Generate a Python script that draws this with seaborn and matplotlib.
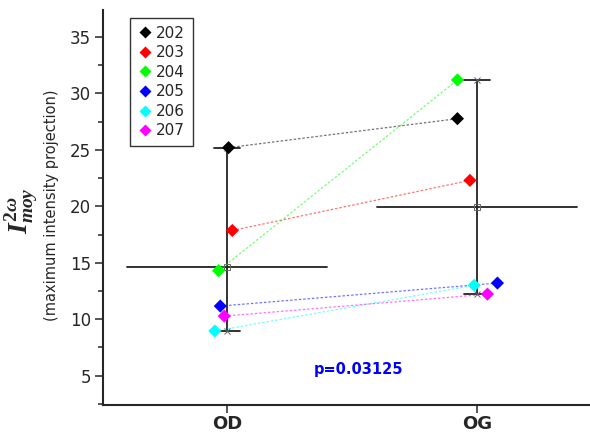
import numpy as np
import pandas as pd
import matplotlib
matplotlib.use("Agg")
import matplotlib.pyplot as plt
from matplotlib.ticker import MultipleLocator
import seaborn as sns

# values
subjects = ['202', '203', '204', '205', '206', '207']
colors = ['black', 'red', '#00ff00', 'blue', 'cyan', 'magenta']
eyes = ['OD', 'OG']
od_values = [25.2, 17.86, 14.3, 11.16, 8.95, 10.27]
og_values = [27.77, 22.3, 31.2, 13.2, 13.0, 12.22]
p_text = 'p=0.03125'

# horizontal jitter of each subject around the eye position (layout only)
jitter_od = [0.005, 0.02, -0.035, -0.028, -0.05, -0.012]
jitter_og = [-0.08, -0.03, -0.08, 0.08, -0.013, 0.04]

df = pd.DataFrame({
    'subject': subjects * 2,
    'eye': ['OD'] * 6 + ['OG'] * 6,
    'value': od_values + og_values,
})
df['xpos'] = df['eye'].map({e: i for i, e in enumerate(eyes)}) + np.array(jitter_od + jitter_og)

sns.set_style('ticks')
plt.rcParams['font.family'] = ['DejaVu Sans']
plt.rcParams['mathtext.fontset'] = 'custom'
plt.rcParams['mathtext.it'] = 'Liberation Serif:italic:bold'
plt.rcParams['mathtext.rm'] = 'Liberation Serif:bold'

fig = plt.figure(figsize=(5.9, 4.34), dpi=100)
ax = fig.add_axes([0.175, 0.067, 0.825, 0.91])

palette = dict(zip(subjects, colors))

# dotted connecting lines per subject
for s in subjects:
    d = df[df['subject'] == s]
    ax.plot(d['xpos'], d['value'], ls=(0, (2, 1.5)), lw=0.9, color=palette[s], alpha=0.55, zorder=2)

# mean / range bars
for i, vals in enumerate([od_values, og_values]):
    lo, hi, m = min(vals), max(vals), np.mean(vals)
    ax.plot([i, i], [lo, hi], color='#222222', lw=1.3, zorder=1)
    ax.plot([i - 0.055, i + 0.05], [lo, lo], color='#222222', lw=1.3, zorder=1)
    ax.plot([i - 0.055, i + 0.05], [hi, hi], color='#222222', lw=1.3, zorder=1)
    ax.plot([i - 0.4, i + 0.4], [m, m], color='#222222', lw=1.3, zorder=1)
    ax.plot([i, i], [lo, hi], ls='none', marker='x', ms=4, mew=0.7, color='#666666', zorder=1)
    ax.plot([i], [m], ls='none', marker='s', ms=4, mfc='none', mew=0.7, color='#666666', zorder=1)

sns.scatterplot(data=df, x='xpos', y='value', hue='subject', palette=palette,
                marker='D', s=45, edgecolor='none', ax=ax, zorder=3)

ax.set_xlim(-0.496, 1.45)
ax.set_ylim(2.4, 37.4)
ax.set_xticks([0, 1])
ax.set_xticklabels(eyes, fontsize=13, fontweight='bold')
ax.yaxis.set_major_locator(MultipleLocator(5))
ax.yaxis.set_minor_locator(MultipleLocator(2.5))
ax.tick_params(axis='y', labelsize=12, length=6, width=1.1, direction='out', pad=3)
ax.tick_params(axis='y', which='minor', length=3.5, width=1.1)
ax.tick_params(axis='x', length=6, width=1.1, pad=1)
ax.set_xlabel('')
ax.set_ylabel('')
sns.despine(ax=ax)
ax.spines['left'].set_linewidth(1.5)
ax.spines['bottom'].set_linewidth(1.5)

fig.text(0.036, 0.515, r'$I^{2\omega}_{moy}$',
         rotation=90, fontsize=20, ha='center', va='center')
fig.text(0.088, 0.527, '(maximum intensity projection)', rotation=90, fontsize=10.5,
         ha='center', va='center')

ax.text(0.345, 5.5, p_text, color='blue', fontsize=10.5, fontweight='bold', ha='left', va='center')

leg = ax.legend(title=None, loc='upper left', bbox_to_anchor=(0.055, 0.98), frameon=True,
                fancybox=False, edgecolor='black', fontsize=11, handletextpad=0.2,
                labelspacing=0.3, borderpad=0.5, handlelength=1.0, markerscale=0.9,
                borderaxespad=0)
leg.get_frame().set_linewidth(1.0)

fig.savefig('out.png', dpi=100)
